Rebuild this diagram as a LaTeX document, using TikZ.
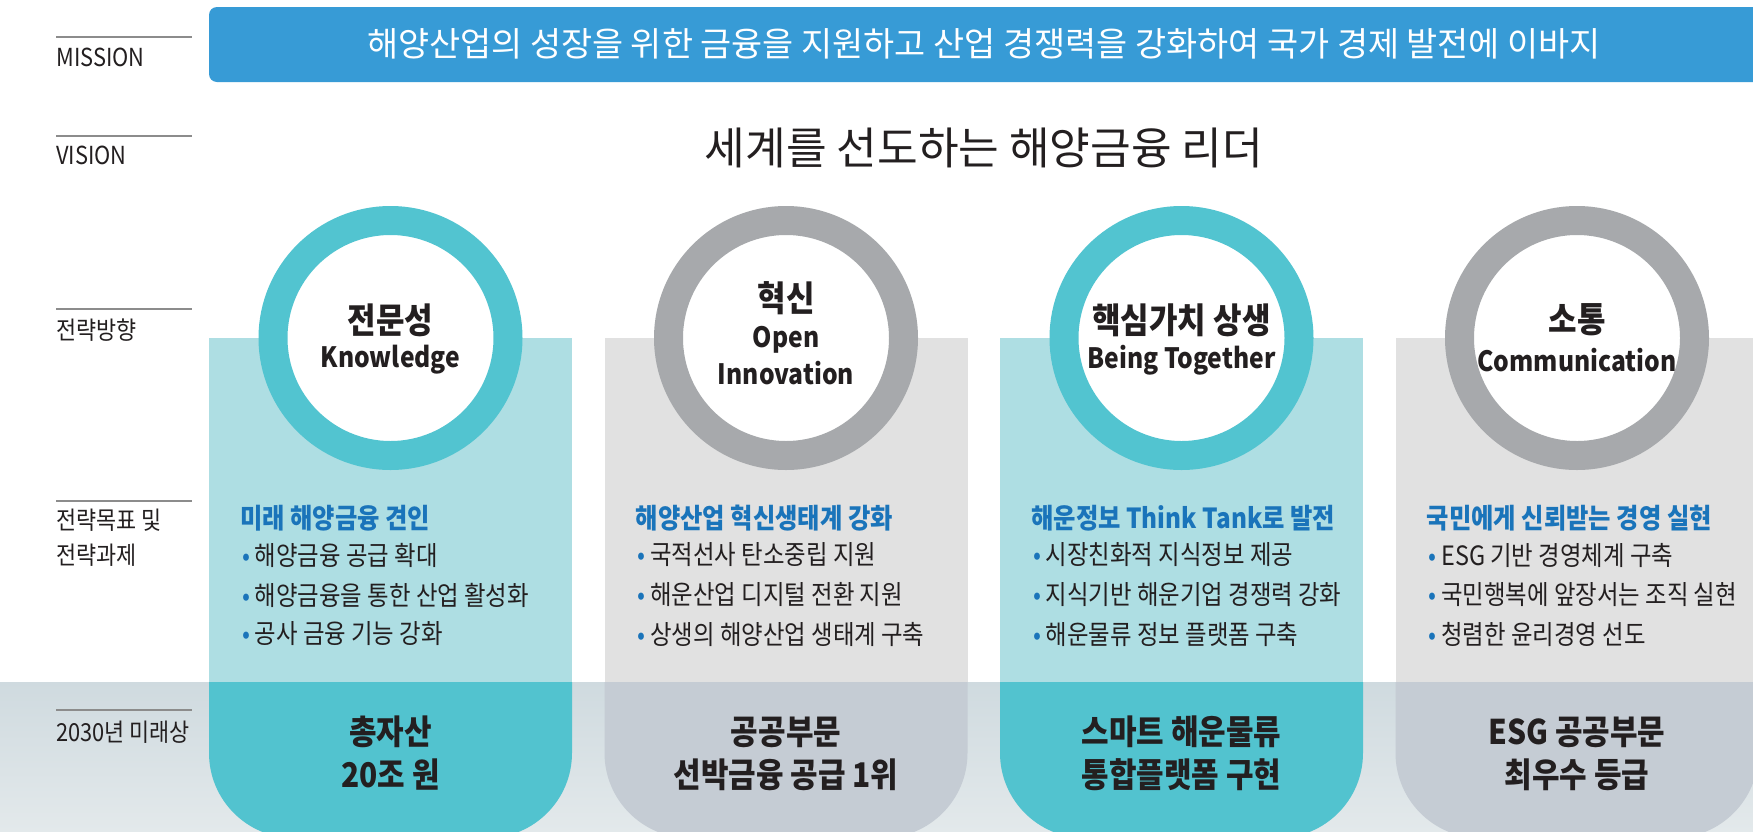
\documentclass[tikz,border=0pt]{standalone}
\usepackage{fontspec}
\setmainfont{Noto Sans CJK KR}
\newfontfamily\narrowkr{Noto Sans CJK KR}[FakeStretch=0.88]
\usepackage{tikz}

\definecolor{missionblue}{HTML}{379BD6}
\definecolor{ringteal}{HTML}{52C4D0}
\definecolor{ringgray}{HTML}{A7A9AC}
\definecolor{paleteal}{HTML}{AEDEE3}
\definecolor{palegray}{HTML}{E1E1E1}
\definecolor{pillteal}{HTML}{52C3CF}
\definecolor{pillgray}{HTML}{C5CCD4}
\definecolor{goalblue}{HTML}{1A74BA}
\definecolor{bandtop}{HTML}{CFDADF}
\definecolor{bandbot}{HTML}{E3E9EB}
\definecolor{inkblack}{HTML}{231F20}
\definecolor{rulegray}{HTML}{8C8C8C}

\tikzset{
  rowrule/.style={draw=rulegray, line width=0.75pt},
  rowlabel/.style={anchor=west, inner sep=0pt, text=inkblack, font=\narrowkr\fontsize{12.4}{14}\selectfont},
  tealring/.style={draw=ringteal, fill=white, line width=14.5pt},
  grayring/.style={draw=ringgray, fill=white, line width=14.5pt},
  dirko/.style={inner sep=0pt, text=inkblack, font=\narrowkr\bfseries\fontsize{17.6}{20}\selectfont},
  diren/.style={inner sep=0pt, text=inkblack, font=\narrowkr\bfseries\fontsize{14}{16}\selectfont},
  goalhead/.style={anchor=west, inner sep=0pt, text=goalblue, font=\narrowkr\bfseries\fontsize{13.8}{16}\selectfont},
  goalitem/.style={anchor=west, inner sep=0pt, text=inkblack, font=\narrowkr\fontsize{13.3}{15}\selectfont},
  futuretext/.style={inner sep=0pt, text=inkblack, font=\narrowkr\bfseries\fontsize{17}{19}\selectfont}
}
\newcommand{\dotitem}{\textcolor{goalblue}{•}\,}

\begin{document}
\begin{tikzpicture}[x=0.5pt, y=-0.5pt]
        \useasboundingbox (0,0) rectangle (1753,831);
        \fill[white] (0,0) rectangle (1753,831);
        % mission and vision
        \fill[missionblue, rounded corners=4pt] (209,7) rectangle (1775,82);
        \node[inner sep=0pt, text=white, font=\fontsize{16.9}{19}\selectfont] (mission) at (984,44) {해양산업의 성장을 위한 금융을 지원하고 산업 경쟁력을 강화하여 국가 경제 발전에 이바지};
        \node[inner sep=0pt, text=inkblack, font=\fontsize{22.1}{25}\selectfont] (vision) at (984,148) {세계를 선도하는 해양금융 리더};
        \draw[rowrule] (56,37) -- (192,37);
        \draw[rowrule] (56,136) -- (192,136);
        \draw[rowrule] (56,309) -- (192,309);
        \draw[rowrule] (56,501) -- (192,501);
        \node[rowlabel] (lblmission) at (56,57) {MISSION};
        \node[rowlabel] (lblvision) at (56,155) {VISION};
        \node[rowlabel] (lbldir) at (56,330) {전략방향};
        \node[rowlabel] (lblgoal) at (56,520) {전략목표 및};
        \node[rowlabel] (lbltask) at (56,555) {전략과제};
        % columns
        \fill[paleteal] (209,338) rectangle (572,682);
        \fill[palegray] (604.5,338) rectangle (967.5,682);
        \fill[paleteal] (1000,338) rectangle (1363,682);
        \fill[palegray] (1395.5,338) rectangle (1758.5,682);
        \shade[top color=bandtop, bottom color=bandbot] (0,682) rectangle (1753,831);
        \begin{scope}
          \clip (0,682) rectangle (1753,831);
          \fill[pillteal, rounded corners=42.5pt] (209,560) rectangle (572,838);
          \fill[pillgray, rounded corners=42.5pt] (604.5,560) rectangle (967.5,838);
          \fill[pillteal, rounded corners=42.5pt] (1000,560) rectangle (1363,838);
          \fill[pillgray, rounded corners=42.5pt] (1395.5,560) rectangle (1758.5,838);
        \end{scope}
        \draw[rowrule] (56,710) -- (192,710);
        \node[rowlabel] (lblfuture) at (56,732) {2030년 미래상};
        % rings
        \draw[tealring] (390.5,338) circle[radius=58.75pt];
        \draw[grayring] (786,338) circle[radius=58.75pt];
        \draw[tealring] (1181.5,338) circle[radius=58.75pt];
        \draw[grayring] (1577,338) circle[radius=58.75pt];
        \node[dirko] (dirA) at (390.5,320) {전문성};
        \node[diren] (dirAen) at (390.5,360) {Knowledge};
        \node[dirko] (dirB) at (786,298) {혁신};
        \node[diren] (dirBen) at (786,340) {Open};
        \node[diren] (dirBen2) at (786,373) {Innovation};
        \node[dirko] (dirC) at (1181.5,320) {핵심가치 상생};
        \node[diren] (dirCen) at (1181.5,360) {Being Together};
        \node[dirko] (dirD) at (1577,320) {소통};
        \node[diren] (dirDen) at (1577,360) {Communication};
        % goals and tasks
        \node[goalhead] (goalA) at (240,518) {미래 해양금융 견인};
        \node[goalitem] (taskA1) at (242,555) {\dotitem 해양금융 공급 확대};
        \node[goalitem] (taskA2) at (242,595) {\dotitem 해양금융을 통한 산업 활성화};
        \node[goalitem] (taskA3) at (242,634) {\dotitem 공사 금융 기능 강화};
        \node[goalhead] (goalB) at (635.5,518) {해양산업 혁신생태계 강화};
        \node[goalitem] (taskB1) at (637.5,555) {\dotitem 국적선사 탄소중립 지원};
        \node[goalitem] (taskB2) at (637.5,595) {\dotitem 해운산업 디지털 전환 지원};
        \node[goalitem] (taskB3) at (637.5,634) {\dotitem 상생의 해양산업 생태계 구축};
        \node[goalhead] (goalC) at (1031,518) {해운정보 Think Tank로 발전};
        \node[goalitem] (taskC1) at (1033,555) {\dotitem 시장친화적 지식정보 제공};
        \node[goalitem] (taskC2) at (1033,595) {\dotitem 지식기반 해운기업 경쟁력 강화};
        \node[goalitem] (taskC3) at (1033,634) {\dotitem 해운물류 정보 플랫폼 구축};
        \node[goalhead] (goalD) at (1426.5,518) {국민에게 신뢰받는 경영 실현};
        \node[goalitem] (taskD1) at (1428.5,555) {\dotitem ESG 기반 경영체계 구축};
        \node[goalitem] (taskD2) at (1428.5,595) {\dotitem 국민행복에 앞장서는 조직 실현};
        \node[goalitem] (taskD3) at (1428.5,634) {\dotitem 청렴한 윤리경영 선도};
        % 2030 targets
        \node[futuretext] (futA1) at (390.5,732) {총자산};
        \node[futuretext] (futA2) at (390.5,775) {20조 원};
        \node[futuretext] (futB1) at (786,732) {공공부문};
        \node[futuretext] (futB2) at (786,775) {선박금융 공급 1위};
        \node[futuretext] (futC1) at (1181.5,732) {스마트 해운물류};
        \node[futuretext] (futC2) at (1181.5,775) {통합플랫폼 구현};
        \node[futuretext] (futD1) at (1577,732) {ESG 공공부문};
        \node[futuretext] (futD2) at (1577,775) {최우수 등급};
\end{tikzpicture}
\end{document}
